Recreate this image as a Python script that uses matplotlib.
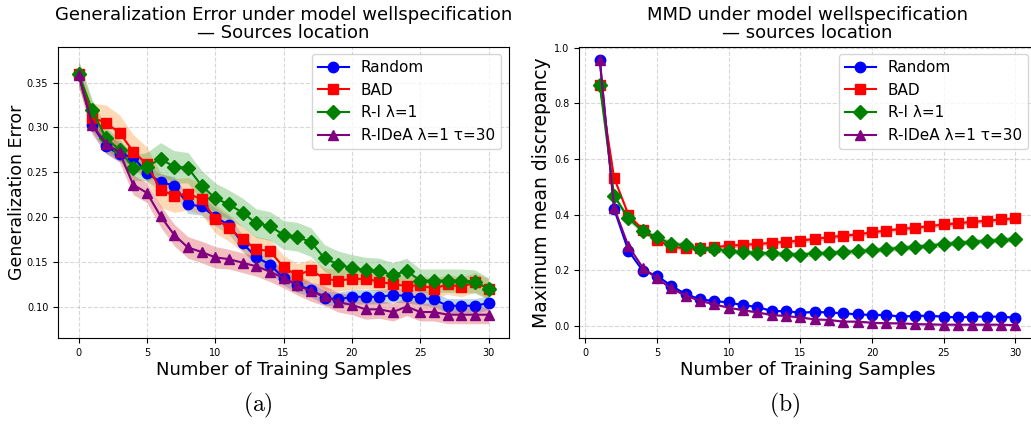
import numpy as np
import matplotlib
matplotlib.use("Agg")
import matplotlib.pyplot as plt

plt.rcParams['mathtext.fontset'] = 'cm'

# ---- (a) generalization error, x = 0..30 ----
n_gen = np.arange(0, 31)
gen_random = [0.360, 0.303, 0.279, 0.270, 0.267, 0.249, 0.239, 0.235, 0.214, 0.212,
              0.200, 0.191, 0.171, 0.155, 0.147, 0.132, 0.124, 0.119, 0.110, 0.108,
              0.111, 0.111, 0.111, 0.113, 0.112, 0.110, 0.108, 0.101, 0.101, 0.101, 0.104]
gen_bad = [0.360, 0.311, 0.305, 0.294, 0.273, 0.259, 0.230, 0.224, 0.226, 0.220,
           0.198, 0.188, 0.175, 0.164, 0.162, 0.144, 0.135, 0.141, 0.131, 0.129,
           0.131, 0.131, 0.128, 0.125, 0.123, 0.124, 0.120, 0.125, 0.122, 0.127, 0.120]
gen_ri = [0.360, 0.319, 0.288, 0.275, 0.255, 0.256, 0.265, 0.256, 0.255, 0.235,
          0.221, 0.214, 0.205, 0.193, 0.190, 0.180, 0.178, 0.172, 0.154, 0.147,
          0.143, 0.141, 0.140, 0.135, 0.140, 0.129, 0.129, 0.129, 0.129, 0.128, 0.120]
gen_ridea = [0.359, 0.303, 0.282, 0.272, 0.236, 0.227, 0.201, 0.180, 0.166, 0.161,
             0.155, 0.153, 0.149, 0.145, 0.139, 0.132, 0.124, 0.117, 0.112, 0.105,
             0.102, 0.097, 0.097, 0.094, 0.100, 0.094, 0.094, 0.091, 0.091, 0.091, 0.091]
# half-widths of the shaded bands
gen_random_sd = [0.010, 0.008, 0.008, 0.008, 0.008, 0.009, 0.009, 0.010, 0.010, 0.010,
                 0.010, 0.010, 0.009, 0.009, 0.009, 0.008, 0.008, 0.008, 0.008, 0.008,
                 0.008, 0.008, 0.008, 0.008, 0.008, 0.008, 0.008, 0.008, 0.008, 0.008, 0.008]
gen_bad_sd = [0.015, 0.016, 0.020, 0.020, 0.019, 0.019, 0.019, 0.019, 0.018, 0.017,
              0.016, 0.015, 0.014, 0.014, 0.013, 0.013, 0.013, 0.012, 0.012, 0.012,
              0.012, 0.011, 0.011, 0.011, 0.011, 0.011, 0.011, 0.011, 0.011, 0.011, 0.011]
gen_ri_sd = [0.015, 0.012, 0.012, 0.012, 0.014, 0.016, 0.018, 0.018, 0.017, 0.017,
             0.017, 0.016, 0.016, 0.016, 0.016, 0.016, 0.016, 0.016, 0.015, 0.015,
             0.015, 0.014, 0.014, 0.014, 0.014, 0.013, 0.013, 0.013, 0.013, 0.013, 0.012]
gen_ridea_sd = [0.012, 0.011, 0.011, 0.011, 0.011, 0.011, 0.012, 0.012, 0.012, 0.012,
                0.012, 0.011, 0.011, 0.011, 0.011, 0.011, 0.011, 0.011, 0.011, 0.011,
                0.011, 0.011, 0.010, 0.010, 0.010, 0.010, 0.010, 0.010, 0.010, 0.010, 0.010]

# ---- (b) MMD, x = 1..30 ----
n_mmd = np.arange(1, 31)
mmd_random = [0.958, 0.420, 0.270, 0.199, 0.181, 0.144, 0.115, 0.096, 0.090, 0.085,
              0.075, 0.069, 0.054, 0.054, 0.048, 0.051, 0.049, 0.046, 0.042, 0.040,
              0.040, 0.034, 0.037, 0.037, 0.034, 0.031, 0.034, 0.034, 0.034, 0.030]
mmd_bad = [0.867, 0.532, 0.400, 0.345, 0.309, 0.285, 0.279, 0.279, 0.283, 0.289,
           0.292, 0.295, 0.299, 0.303, 0.307, 0.313, 0.319, 0.325, 0.329, 0.337,
           0.343, 0.349, 0.353, 0.359, 0.365, 0.369, 0.375, 0.378, 0.383, 0.387]
mmd_ri = [0.867, 0.468, 0.387, 0.341, 0.319, 0.295, 0.291, 0.277, 0.277, 0.269,
          0.267, 0.263, 0.261, 0.259, 0.257, 0.261, 0.263, 0.267, 0.269, 0.273,
          0.277, 0.281, 0.285, 0.289, 0.295, 0.299, 0.303, 0.307, 0.309, 0.313]
mmd_ridea = [0.955, 0.425, 0.287, 0.210, 0.171, 0.135, 0.109, 0.091, 0.078, 0.066,
             0.057, 0.049, 0.040, 0.036, 0.031, 0.024, 0.022, 0.016, 0.016, 0.012,
             0.010, 0.010, 0.007, 0.006, 0.005, 0.005, 0.005, 0.005, 0.005, 0.003]
mmd_random_sd = [0.004] * 30
mmd_bad_sd = [0.008] * 30
mmd_ri_sd = [0.010] * 30
mmd_ridea_sd = [0.004] * 30

labels = ['Random', 'BAD', 'R-I λ=1', 'R-IDeA λ=1 τ=30']
line_colors = ['blue', 'red', 'green', 'purple']
markers = ['o', 's', 'D', '^']

fig = plt.figure(figsize=(10.31, 4.29), dpi=100)
ax1 = fig.add_axes([0.0563, 0.2121, 0.4375, 0.679])
ax2 = fig.add_axes([0.5616, 0.2121, 0.4433, 0.679])

# left panel: bands use the default cycle colours
gen_means = [gen_random, gen_bad, gen_ri, gen_ridea]
gen_sds = [gen_random_sd, gen_bad_sd, gen_ri_sd, gen_ridea_sd]
for i in range(4):
    m = np.array(gen_means[i])
    s = np.array(gen_sds[i])
    ax1.plot(n_gen, m, marker=markers[i], color=line_colors[i], label=labels[i],
             markersize=7.5, linewidth=1.5)
    ax1.fill_between(n_gen, m - s, m + s, color='C%d' % i, alpha=0.3, linewidth=0)

ax1.set_xlim(-1.5, 31.5)
ax1.set_ylim(0.065, 0.390)
ax1.set_yticks([0.10, 0.15, 0.20, 0.25, 0.30, 0.35])
ax1.set_title('Generalization Error under model wellspecification\n— Sources location',
              fontsize=13, linespacing=1.0)
ax1.set_xlabel('Number of Training Samples', fontsize=13, labelpad=2)
ax1.set_ylabel('Generalization Error', fontsize=12.5)
ax1.yaxis.set_label_coords(-0.071, 0.5)
ax1.tick_params(labelsize=7)
ax1.grid(True, linestyle='--', alpha=0.5)
ax1.legend(fontsize=11, loc='upper right', bbox_to_anchor=(0.982, 0.975),
           borderaxespad=0)
fig.text(0.25, 0.04, r'$\mathrm{(a)}$', fontsize=17, ha='center')

# right panel: bands in the line colours
mmd_means = [mmd_random, mmd_bad, mmd_ri, mmd_ridea]
mmd_sds = [mmd_random_sd, mmd_bad_sd, mmd_ri_sd, mmd_ridea_sd]
for i in range(4):
    m = np.array(mmd_means[i])
    s = np.array(mmd_sds[i])
    ax2.plot(n_mmd, m, marker=markers[i], color=line_colors[i], label=labels[i],
             markersize=7.5, linewidth=1.5)
    ax2.fill_between(n_mmd, m - s, m + s, color=line_colors[i], alpha=0.3, linewidth=0)

ax2.set_xlim(-0.45, 31.45)
ax2.set_ylim(-0.043, 1.004)
ax2.set_title('MMD under model wellspecification\n— sources location',
              fontsize=13, linespacing=1.0)
ax2.set_xlabel('Number of Training Samples', fontsize=13, labelpad=2)
ax2.set_ylabel('Maximum mean discrepancy', fontsize=13.5)
ax2.yaxis.set_label_coords(-0.062, 0.5)
ax2.tick_params(labelsize=7)
ax2.grid(True, linestyle='--', alpha=0.5)
ax2.legend(fontsize=11, loc='upper right', bbox_to_anchor=(0.9825, 0.975),
           borderaxespad=0)
fig.text(0.761, 0.04, r'$\mathrm{(b)}$', fontsize=17, ha='center')

fig.savefig('out.png', dpi=100)
